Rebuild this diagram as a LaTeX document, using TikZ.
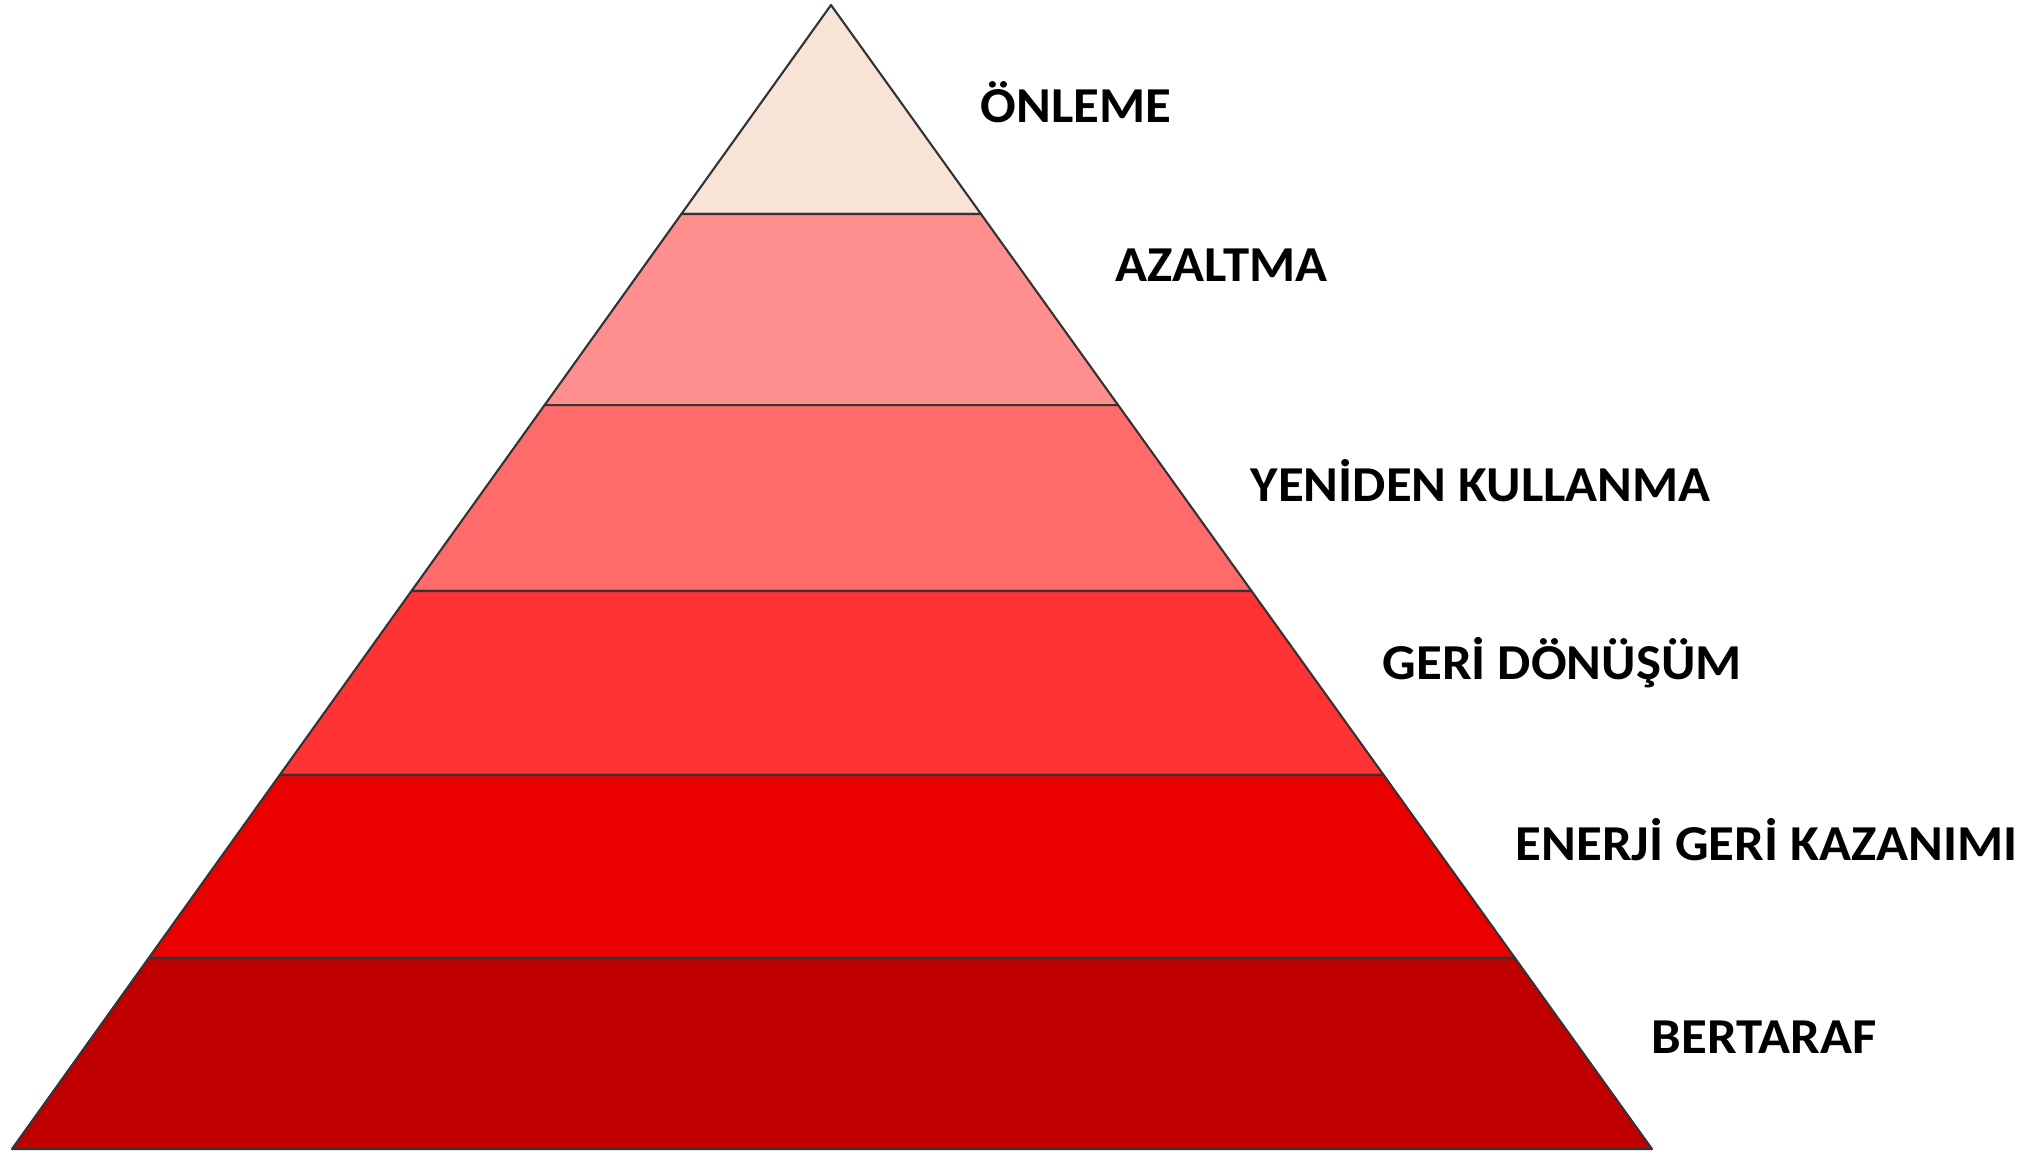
\documentclass[tikz,border=0pt]{standalone}
\usepackage{fontspec}
\setmainfont{Carlito}[FakeStretch=1.05]
\usepackage{xcolor}
\usetikzlibrary{calc}

\definecolor{layerA}{HTML}{F8E4D6}
\definecolor{layerB}{HTML}{FF8E8E}
\definecolor{layerC}{HTML}{FF6B6B}
\definecolor{layerD}{HTML}{FF3333}
\definecolor{layerE}{HTML}{EB0000}
\definecolor{layerF}{HTML}{C00000}

\tikzset{
  layer/.style={draw=black!80, line width=0.6pt, line join=round},
  stage/.style={anchor=base west, inner sep=0pt, font=\fontsize{14.3}{17}\selectfont\bfseries}
}

\begin{document}
\begin{tikzpicture}[x=0.01cm, y=-0.01cm]
  \path[use as bounding box] (0,0) rectangle (2038,1153);

  \coordinate (apex) at (831,5);
  \coordinate (bl) at (12,1149);
  \coordinate (br) at (1652,1149);

  % layer borders along the two sides
  \foreach \t/\n in {0/0, 0.1827/1, 0.3497/2, 0.5122/3, 0.6731/4, 0.8330/5, 1/6}{
    \coordinate (l\n) at ($(apex)!\t!(bl)$);
    \coordinate (r\n) at ($(apex)!\t!(br)$);
  }

  \foreach \a/\b/\c in {0/1/layerA, 1/2/layerB, 2/3/layerC, 3/4/layerD, 4/5/layerE, 5/6/layerF}
    \filldraw[layer, fill=\c] (l\a) -- (r\a) -- (r\b) -- (l\b) -- cycle;

  \node[stage] (onleme)   at (980,122)  {ÖNLEME};
  \node[stage] (azaltma)  at (1115,281) {AZALTMA};
  \node[stage] (yeniden)  at (1250,501) {YENİDEN KULLANMA};
  \node[stage] (geri)     at (1382,679) {GERİ DÖNÜŞÜM};
  \node[stage] (enerji)   at (1515,860) {ENERJİ GERİ\ KAZANIMI};
  \node[stage] (bertaraf) at (1651,1053) {BERTARAF};
\end{tikzpicture}
\end{document}
